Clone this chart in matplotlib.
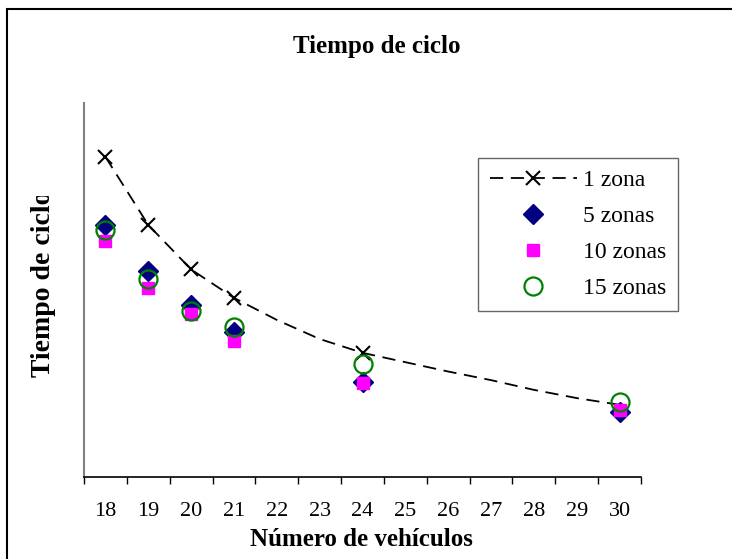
import matplotlib
matplotlib.use("Agg")
import matplotlib.pyplot as plt
from matplotlib.patches import Rectangle
from matplotlib.transforms import Bbox

plt.rcParams['font.family'] = ['Liberation Serif', 'DejaVu Serif']
plt.rcParams['lines.scale_dashes'] = False

categories = ['18', '19', '20', '21', '22', '23', '24', '25', '26', '27', '28', '29', '30']
zona1 = [85.6, 67.4, 55.5, 47.9, 42.0, 36.9, 33.2, 30.7, 28.2, 25.9, 23.3, 21.1, 19.3]
zona1_marked = [0, 1, 2, 3, 6]
data_idx = [0, 1, 2, 3, 6, 12]
zonas5 = [67.4, 55.1, 46.0, 38.9, 25.5, 17.5]
zonas10 = [63.2, 50.5, 43.5, 36.4, 25.2, 17.9]
zonas15 = [66.0, 52.9, 44.5, 40.2, 30.1, 20.1]

W, H = 732, 559
fig = plt.figure(figsize=(W / 100, H / 100), dpi=100)
ax = fig.add_axes([84 / W, 1 - 477 / H, (641 - 84) / W, (477 - 103) / H])

x_all = list(range(len(categories)))
ax.plot(x_all, zona1, color='black', lw=1.3, dashes=(9.5, 5.5),
        marker='x', markersize=10, markeredgewidth=1.5, markevery=zona1_marked,
        label='1 zona', zorder=2)
ax.plot(data_idx, zonas5, ls='none', marker='D', markersize=10,
        color='#000080', markeredgecolor='#000080', label='5 zonas', zorder=3)
ax.plot(data_idx, zonas10, ls='none', marker='s', markersize=8.5,
        color='#FF00FF', markeredgecolor='#FF00FF', label='10 zonas', zorder=4)
ax.plot(data_idx, zonas15, ls='none', marker='o', markersize=13,
        markerfacecolor='none', markeredgecolor='#008000', markeredgewidth=1.6,
        label='15 zonas', zorder=5)

ax.set_xlim(-0.5, len(categories) - 0.5)
ax.set_ylim(0, 100)
ax.set_xticks(x_all)
ax.set_xticklabels(categories, fontsize=16)
ax.set_xticks([i - 0.5 for i in range(len(categories) + 1)], minor=True)
ax.tick_params(axis='x', which='major', length=0, pad=18)
ax.tick_params(axis='x', which='minor', length=5, width=1, direction='out', color='black')
ax.set_yticks([])
for s in ['top', 'right']:
    ax.spines[s].set_visible(False)
ax.spines['left'].set_color('#808080')
ax.spines['left'].set_linewidth(1.5)
ax.spines['bottom'].set_color('black')
ax.spines['bottom'].set_linewidth(1.2)

fig.text(377 / W, 1 - 46 / H, 'Tiempo de ciclo', ha='center', va='center',
         fontsize=18, fontweight='bold')
fig.text(361 / W, 1 - 540 / H, 'Número de vehículos', ha='center', va='center',
         fontsize=18, fontweight='bold')
yl = fig.text(44 / W, 1 - 377 / H, 'Tiempo de ciclo', ha='center', va='bottom',
              rotation=90, fontsize=20, fontweight='bold', clip_on=True)
yl.set_clip_box(Bbox.from_extents(0, 0, W, H - 196))

leg = ax.legend(loc='upper left', bbox_to_anchor=(478 / W, 1 - 158 / H),
                bbox_transform=fig.transFigure, fontsize=17, frameon=True,
                fancybox=False, edgecolor='#404040', handlelength=3.7,
                labelspacing=0.61, borderpad=0.5, handletextpad=0.25,
                borderaxespad=0)
leg.get_frame().set_linewidth(1.0)

fig.patches.append(Rectangle((7 / W, -0.1), 1.2, 1 - 9 / H + 0.1,
                             transform=fig.transFigure, fill=False,
                             edgecolor='black', linewidth=1.5))

fig.savefig('out.png', dpi=100)
